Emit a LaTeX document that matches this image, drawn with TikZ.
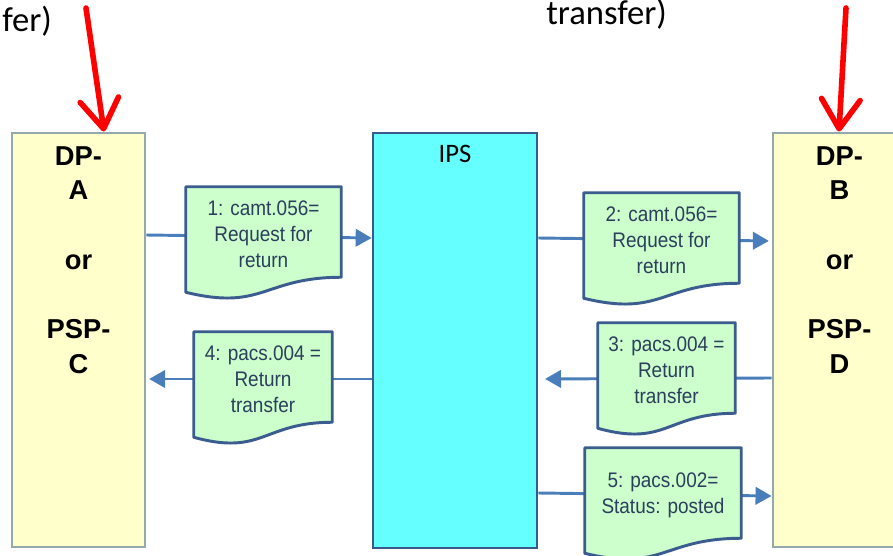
\documentclass[tikz,border=0pt]{standalone}
\usepackage{fontspec}
\setmainfont{Liberation Sans}
\newfontfamily\calibrifont{Carlito}
\newfontfamily\msgfont[FakeStretch=0.9]{Liberation Sans}
\usetikzlibrary{arrows.meta, positioning, calc}

\definecolor{partyfill}{HTML}{FFFFCC}
\definecolor{partyline}{HTML}{93A9AE}
\definecolor{ipsfill}{HTML}{66FFFF}
\definecolor{ipsline}{HTML}{3A5A8C}
\definecolor{msgfill}{HTML}{CCFFCC}
\definecolor{msgline}{HTML}{3B5C8E}
\definecolor{msgtext}{HTML}{2B3F5C}
\definecolor{flowblue}{HTML}{4A7EBB}

\pgfdeclarelayer{flow}
\pgfdeclarelayer{paper}
\pgfsetlayers{flow,paper,main}

% wavy document outline round a message node
\newcommand\docshape[1]{%
    \path[msgshape] (#1.north west) -- (#1.north east)
        -- ($(#1.south east)+(0,-4)$)
        .. controls ($(#1.south)+(0,-4)$) and ($(#1.south)+(0,30)$) ..
        ($(#1.south west)+(0,11)$) -- cycle;}

\begin{document}
\begin{tikzpicture}[
        x=0.75pt, y=-0.75pt,
        party/.style = {
            draw=partyline,
            fill=partyfill,
            line width=2.2pt,
            minimum width=99.75pt,
            minimum height=310.5pt
        },
        partyname/.style = {
            font=\fontsize{20.5}{26}\selectfont\bfseries,
            align=center,
            inner sep=0pt
        },
        ips/.style = {
            draw=ipsline,
            fill=ipsfill,
            line width=2pt,
            minimum width=123pt,
            minimum height=311pt
        },
        msg/.style = {
            font=\msgfont\fontsize{15.8}{19.5}\selectfont,
            text=msgtext,
            align=center,
            inner sep=0pt,
            minimum height=70.5pt
        },
        msgshape/.style = {
            draw=msgline,
            fill=msgfill,
            line width=2.2pt,
            line join=round
        },
        flowline/.style = {
            draw=flowblue,
            line width=2.2pt,
            -{Triangle[length=12pt, width=13pt]}
        },
        pointer/.style = {
            draw=red,
            line width=4.2pt,
            line cap=round,
            -{Straight Barb[length=22pt, width=29pt, line cap=round, round]}
        },
        clipped/.style = {
            font=\calibrifont\fontsize{26}{30}\selectfont,
            inner sep=0pt
        }
    ]

    \clip (0,0) rectangle (893,556);

    % the three parties
    \node[party] (lbox) at (78.5,340) {};
    \node[ips] (ips) at (455,340.5) {};
    \node[party] (rbox) at (839.5,340) {};

    \node[partyname, below=11pt of lbox.north] (lname) {DP-\\A\\[26pt]or\\[26pt]PSP-\\C};
    \node[partyname, below=11pt of rbox.north] (rname) {DP-\\B\\[26pt]or\\[26pt]PSP-\\D};
    \node[below=10pt of ips.north, inner sep=0pt, font=\calibrifont\fontsize{20}{24}\selectfont] (ipsname) {IPS};

    % cut-off texts at the top
    \node[clipped, anchor=base west] (top1) at (2,32) {fer)};
    \node[clipped, anchor=base west] (top2) at (546,25) {transfer)};

    \coordinate (lstart) at (86,8);
    \coordinate (rstart) at (846,8);
    \draw[pointer] (lstart) -- (lbox.north -| 104,0);
    \draw[pointer] (rstart) -- (rbox.north -| 839,0);

    % messages
    \begin{pgfonlayer}{flow}
        \draw[flowline] (lbox.east |- 0,235) -- (ips.west |- 0,238);
        \draw[flowline, shorten >=2pt] (ips.east |- 0,238) -- (rbox.west |- 0,241);
        \draw[flowline, shorten >=5pt] (rbox.west |- 0,378) -- (ips.east |- 0,379);
        \draw[flowline, shorten >=2pt] (ips.west |- 0,379) -- (lbox.east |- 0,379);
        \draw[flowline] (ips.east |- 0,493) -- (rbox.west |- 0,496);
    \end{pgfonlayer}

    \node[msg, minimum width=116.25pt] (m1) at (263.5,234) {1: camt.056=\\Request for\\return};
    \node[msg, minimum width=116.25pt] (m2) at (661.5,240) {2: camt.056=\\Request for\\return};
    \node[msg, minimum width=102.75pt] (m3) at (666.5,370) {3: pacs.004 =\\Return\\transfer};
    \node[msg, minimum width=103.5pt] (m4) at (263,379) {4: pacs.004 =\\Return\\transfer};
    \node[msg, minimum width=117pt] (m5) at (663,495) {5: pacs.002=\\Status: posted};

    \begin{pgfonlayer}{paper}
        \foreach \m in {m1,m2,m3,m4,m5}
            \docshape{\m};
    \end{pgfonlayer}

\end{tikzpicture}
\end{document}
